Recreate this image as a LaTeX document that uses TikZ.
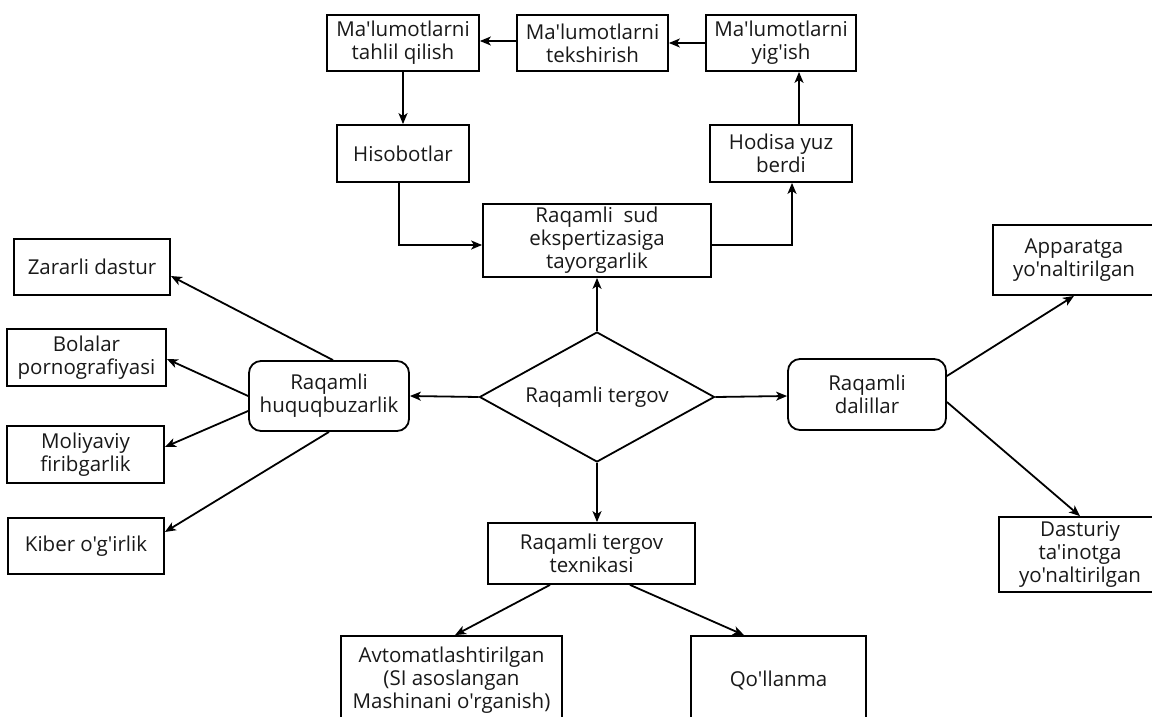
\documentclass[tikz,border=0pt]{standalone}
\usepackage{fontspec}
\setmainfont{Open Sans}[Ligatures=TeXOff]
\usetikzlibrary{shapes.geometric,arrows.meta,calc}
\begin{document}
\begin{tikzpicture}[x=1pt,y=-1pt,
  every node/.style={font=\fontsize{20.5}{23}\selectfont, align=center, inner sep=0pt, text=black!90},
  bx/.style={draw, line width=1.8pt, rectangle},
  rbx/.style={draw, line width=1.8pt, rectangle, rounded corners=12pt},
  dm/.style={draw, line width=1.8pt, diamond, shape aspect=1.81, minimum width=235pt, minimum height=130pt},
  arr/.style={line width=1.8pt, -{Stealth[length=11pt,width=9pt,inset=3pt]}}]
\clip (0,0) rectangle (1152,717);
\fill[white] (0,0) rectangle (1152,717);
% top row
\node[bx, minimum width=152pt, minimum height=56pt] (tah) at (403,43) {Ma'lumotlarni\\tahlil qilish};
\node[bx, minimum width=151pt, minimum height=56pt] (tek) at (592.5,43) {Ma'lumotlarni\\tekshirish};
\node[bx, minimum width=150pt, minimum height=56pt] (yig) at (781,43) {Ma'lumotlarni\\yig'ish};
\node[bx, minimum width=132pt, minimum height=57pt] (his) at (403,153.5) {Hisobotlar};
\node[bx, minimum width=142pt, minimum height=57pt] (hod) at (781,153.5) {Hodisa yuz\\berdi};
\node[bx, minimum width=228pt, minimum height=73pt] (sud) at (597,240.5) {Raqamli\ \ sud\\ekspertizasiga\\tayorgarlik};
% center
\node[dm] (dia) at (597,397) {Raqamli tergov};
\node[rbx, minimum width=160pt, minimum height=70pt] (huq) at (329,396) {Raqamli\\huquqbuzarlik};
\node[rbx, minimum width=158pt, minimum height=71pt] (dal) at (867,394.5) {Raqamli\\dalillar};
\node[bx, minimum width=207pt, minimum height=61pt] (tex) at (591.5,553.5) {Raqamli tergov\\texnikasi};
% left
\node[bx, minimum width=156pt, minimum height=56pt] (zar) at (92,267) {Zararli dastur};
\node[bx, minimum width=159pt, minimum height=57pt] (bol) at (86.5,357.5) {Bolalar\\pornografiyasi};
\node[bx, minimum width=157pt, minimum height=57pt] (mol) at (85.5,454.5) {Moliyaviy\\firibgarlik};
\node[bx, minimum width=156pt, minimum height=56pt] (kib) at (86,546) {Kiber o'g'irlik};
% right
\node[bx, minimum width=162pt, minimum height=70pt] (app) at (1074,260) {Apparatga\\yo'naltirilgan};
\node[bx, minimum width=162pt, minimum height=75pt] (das) at (1080,554.5) {Dasturiy\\ta'inotga\\yo'naltirilgan};
% bottom
\node[bx, minimum width=221pt, minimum height=88pt] (avt) at (451.5,680) {Avtomatlashtirilgan\\(SI asoslangan\\Mashinani o'rganish)};
\node[bx, minimum width=175pt, minimum height=88pt] (qol) at (778.5,680) {Qo'llanma};
% connectors
\draw[arr] (yig.west) -- (tek.east);
\draw[arr] ($(tek.west)+(0,-2)$) -- ($(tah.east)+(0,-2)$);
\draw[arr] (tah.south) -- (his.north);
\draw[arr] ($(his.south)+(-4,0)$) |- ($(sud.west)+(0,4.5)$);
\draw[arr] ($(sud.east)+(0,4.5)$) -| ($(hod.south)+(11,0)$);
\draw[arr] ($(hod.north)+(18,0)$) -- ($(yig.south)+(18,0)$);
\draw[arr] (dia.north) -- (sud.south);
\draw[arr] (dia.west) -- (huq.east);
\draw[arr] (dia.east) -- ($(dal.west)+(0,1.5)$);
\draw[arr] (dia.south) -- (dia.south |- tex.north);
\draw[arr] ($(huq.north)+(4,0)$) -- ($(zar.east)+(0,9)$);
\draw[arr] (huq.west) -- ($(bol.east)+(0,1.5)$);
\draw[arr] ($(huq.west)+(0,15)$) -- ($(mol.east)+(0,-7.5)$);
\draw[arr] (huq.south) -- ($(kib.east)+(0,-14)$);
\draw[arr] ($(dal.east)+(0,-18.5)$) -- (app.south);
\draw[arr] ($(dal.east)+(0,7.5)$) -- (das.north);
\draw[arr] ($(tex.south)+(-41.5,0)$) -- ($(avt.north)+(3.5,0)$);
\draw[arr] ($(tex.south)+(38.5,0)$) -- ($(qol.north)+(-34.5,0)$);
\end{tikzpicture}
\end{document}
